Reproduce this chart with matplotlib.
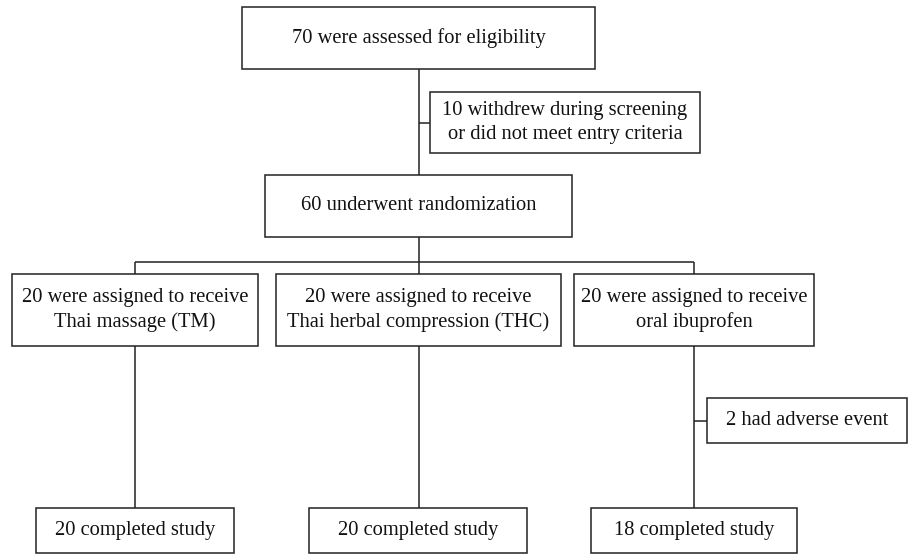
import matplotlib
matplotlib.use('Agg')
import matplotlib.pyplot as plt
from matplotlib.patches import Rectangle

# flowchart text
screened = '70 were assessed for eligibility'
excluded = '10 withdrew during screening\nor did not meet entry criteria'
randomized = '60 underwent randomization'
arms = ['20 were assigned to receive\nThai massage (TM)',
        '20 were assigned to receive\nThai herbal compression (THC)',
        '20 were assigned to receive\noral ibuprofen']
dropouts = [None, None, '2 had adverse event']
completed = ['20 completed study', '20 completed study', '18 completed study']

plt.rcParams['font.family'] = ['Liberation Serif', 'DejaVu Serif']
FS = 14.8
LW = 1.1

fig = plt.figure(figsize=(9.08, 5.54), dpi=100)
ax = fig.add_axes([0, 0, 1, 1])
ax.set_xlim(0, 908)
ax.set_ylim(554, 0)
ax.axis('off')


def box(x0, y0, x1, y1, text):
    ax.add_patch(Rectangle((x0, y0), x1 - x0, y1 - y0, fill=False,
                           lw=LW, ec='#222222'))
    ax.text((x0 + x1) / 2, (y0 + y1) / 2, text, ha='center', va='center',
            fontsize=FS, linespacing=1.3, color='#111111')


def line(xs, ys):
    ax.plot(xs, ys, color='#222222', lw=LW, solid_capstyle='butt')


box(242, 7, 595, 69, screened)
box(430, 92, 700, 153, excluded)
box(265, 175, 572, 237, randomized)

line([418.5, 418.5], [69, 175])
line([418.5, 430], [123, 123])
line([418.5, 418.5], [237, 262])

arm_x = [(12, 258), (276, 561), (574, 814)]
done_x = [(36, 234), (309, 527), (591, 797)]
centers = [(a + b) / 2 for a, b in arm_x]
line([centers[0], centers[-1]], [262, 262])

for i in range(3):
    cx = centers[i]
    line([cx, cx], [262, 274])
    box(arm_x[i][0], 274, arm_x[i][1], 346, arms[i])
    line([cx, cx], [346, 508])
    box(done_x[i][0], 508, done_x[i][1], 553, completed[i])
    if dropouts[i]:
        box(707, 398, 907, 443, dropouts[i])
        line([cx, 707], [421, 421])

fig.savefig('out.png', dpi=100)
